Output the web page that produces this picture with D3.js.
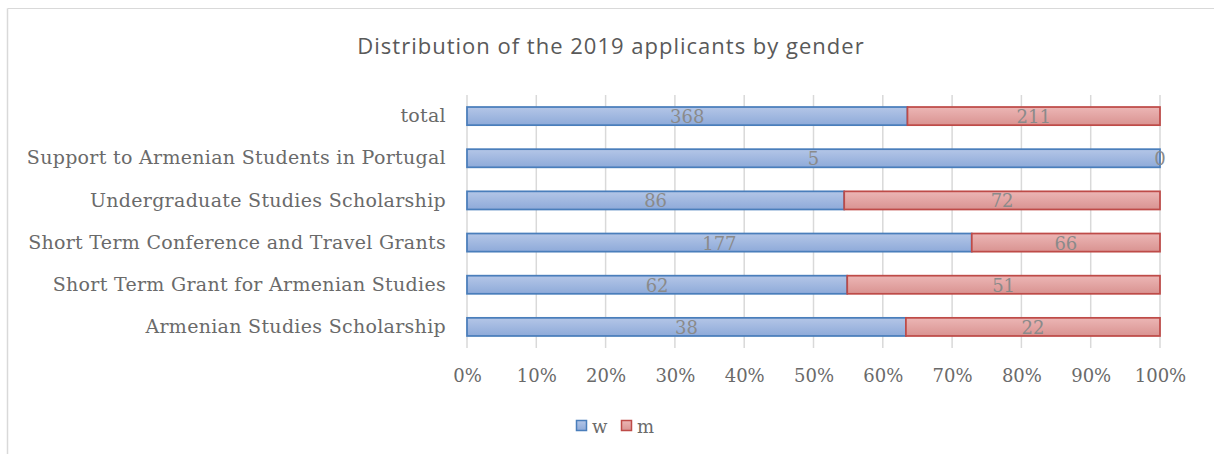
<!DOCTYPE html>
<html><head><meta charset="utf-8">
<script src="https://cdn.jsdelivr.net/npm/d3@7"></script>
<style>body{margin:0;background:#fff;}svg{display:block;}</style>
</head><body>
<svg id="c" width="1214" height="454"></svg>
<script>
const categories = ["total","Support to Armenian Students in Portugal","Undergraduate Studies Scholarship","Short Term Conference and Travel Grants","Short Term Grant for Armenian Studies","Armenian Studies Scholarship"];
const wValues = [368,5,86,177,62,38];
const mValues = [211,0,72,66,51,22];
const seriesNames = ["w","m"];
const tickValues = [0,0.1,0.2,0.3,0.4,0.5,0.6,0.7,0.8,0.9,1.0];

const svg = d3.select("#c");
const serif = "'DejaVu Serif',serif";
const defs = svg.append("defs");
function grad(id, c1, c2){
  const g = defs.append("linearGradient").attr("id",id).attr("x1",0).attr("y1",0).attr("x2",0).attr("y2",1);
  g.append("stop").attr("offset","0%").attr("stop-color",c1);
  g.append("stop").attr("offset","100%").attr("stop-color",c2);
}
grad("gw","#b4c6e7","#8eaad9");
grad("gm","#ecb6b5","#d99391");
const fills = {w:"url(#gw)", m:"url(#gm)"};
const strokes = {w:"#4a7ebb", m:"#be4b48"};

// frame (top and left visible)
svg.append("line").attr("x1",7.5).attr("x2",1214).attr("y1",8.5).attr("y2",8.5).attr("stroke","#d9d9d9").attr("stroke-width",1);
svg.append("line").attr("x1",7.5).attr("x2",7.5).attr("y1",8.5).attr("y2",454).attr("stroke","#d9d9d9").attr("stroke-width",1.5);

svg.append("text").attr("x",611).attr("y",54).attr("text-anchor","middle")
  .attr("font-family","'Open Sans','Noto Sans',sans-serif").attr("font-size",22).attr("letter-spacing","1px").attr("fill","#595959")
  .text("Distribution of the 2019 applicants by gender");

const x = d3.scaleLinear().domain([0,1]).range([467,1160]);
const y = d3.scaleBand().domain(categories).range([95,348]).paddingInner(0.57).paddingOuter(0.285);

// gridlines
svg.append("g").selectAll("line").data(tickValues).join("line")
  .attr("x1",d=>x(d)).attr("x2",d=>x(d)).attr("y1",95).attr("y2",348)
  .attr("stroke","#d9d9d9").attr("stroke-width",1.5);

// x axis
const xAxis = svg.append("g").attr("transform","translate(0,348)")
  .call(d3.axisBottom(x).tickValues(tickValues).tickFormat(d3.format(".0%")).tickSize(0).tickPadding(21));
xAxis.select(".domain").remove();
xAxis.selectAll("text").attr("font-family",serif).attr("font-size",18).attr("fill","#6a6a6a");

// y axis
const yAxis = svg.append("g").attr("transform","translate(467,0)")
  .call(d3.axisLeft(y).tickSize(0).tickPadding(21));
yAxis.select(".domain").remove();
yAxis.selectAll("text").attr("font-family",serif).attr("font-size",19).attr("letter-spacing","0.3px").attr("fill","#6a6a6a");

const rows = categories.map((c,i)=>{const t=wValues[i]+mValues[i];return {c, w:wValues[i]/t, m:mValues[i]/t, wv:wValues[i], mv:mValues[i]};});
const stack = d3.stack().keys(seriesNames)(rows);

stack.forEach(s=>{
  const g = svg.append("g");
  g.selectAll("rect").data(s).join("rect")
    .attr("x",d=>x(d[0])).attr("y",d=>y(d.data.c))
    .attr("width",d=>x(d[1])-x(d[0])).attr("height",y.bandwidth())
    .attr("fill",fills[s.key]).attr("stroke",strokes[s.key]).attr("stroke-width",1.75)
    .attr("display",d=>d[1]-d[0]>0?null:"none");
});
stack.forEach(s=>{
  svg.append("g").selectAll("text").data(s).join("text")
    .attr("x",d=>(x(d[0])+x(d[1]))/2).attr("y",d=>y(d.data.c)+y.bandwidth()/2+7)
    .attr("text-anchor","middle").attr("font-family",serif).attr("font-size",18).attr("fill","#8a8a8a")
    .text(d=>d.data[s.key+"v"]);
});

// legend
const lg = svg.append("g");
const legendX = d3.scaleOrdinal().domain(seriesNames).range([576,621]);
seriesNames.forEach(k=>{
  lg.append("rect").attr("x",legendX(k)+0.5).attr("y",420.5).attr("width",10).attr("height",10)
    .attr("fill",fills[k]).attr("stroke",strokes[k]).attr("stroke-width",1.5);
  lg.append("text").attr("x",legendX(k)+16).attr("y",433).attr("font-family",serif).attr("font-size",18).attr("fill","#6a6a6a").text(k);
});
</script>
</body></html>
